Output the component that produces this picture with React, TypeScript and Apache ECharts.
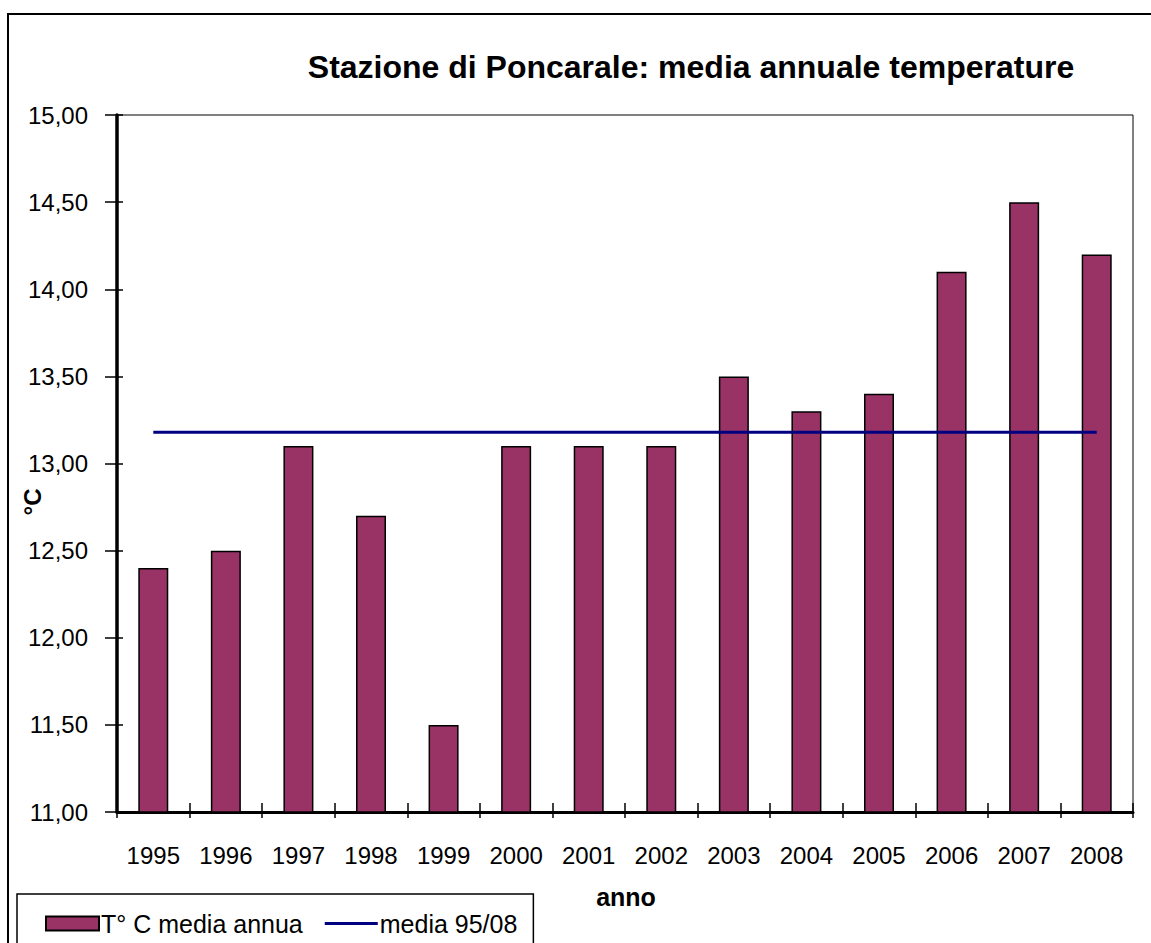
import React, { useEffect, useRef } from "react";
import * as echarts from "echarts";

const years = ["1995", "1996", "1997", "1998", "1999", "2000", "2001", "2002", "2003", "2004", "2005", "2006", "2007", "2008"];
const tempValues = [12.4, 12.5, 13.1, 12.7, 11.5, 13.1, 13.1, 13.1, 13.5, 13.3, 13.4, 14.1, 14.5, 14.2];
const meanValues = [13.18, 13.18, 13.18, 13.18, 13.18, 13.18, 13.18, 13.18, 13.18, 13.18, 13.18, 13.18, 13.18, 13.18];
const barName = "T° C media annua";
const lineName = "media 95/08";
const titleText = "Stazione di Poncarale: media annuale temperature";
const xName = "anno";
const yName = "°C";

const FONT = "'Liberation Sans', Arial, sans-serif";
const LINE_ICON = "path://M0,0L0.01,0L0,0.01ZM0,5.5H53V8.5H0ZM0,14L0.01,14L0,13.99Z";

export default function App() {
  const ref = useRef<HTMLDivElement>(null);
  useEffect(() => {
    document.body.style.margin = "0";
    if (!ref.current) return;
    const chart = echarts.init(ref.current, null, { renderer: "svg" });
    const fmt = (v: number) => v.toFixed(2).replace(".", ",");
    chart.setOption({
      animation: false,
      backgroundColor: "#fff",
      textStyle: { fontFamily: FONT },
      grid: {
        left: 117,
        top: 115,
        right: 18,
        bottom: 131,
        show: true,
        borderColor: "#000",
        borderWidth: 1,
        backgroundColor: "transparent",
      },
      legend: {
        left: 17,
        top: 894,
        width: 530,
        padding: [17, 16, 40, 28],
        borderColor: "#000",
        borderWidth: 1.5,
        itemWidth: 53,
        itemHeight: 14,
        itemGap: 22,
        textStyle: { fontFamily: FONT, fontSize: 25, color: "#000", padding: [0, 0, 0, -3] },
        data: [
          { name: barName, icon: "rect" },
          { name: lineName, icon: LINE_ICON },
        ],
      },
      xAxis: [
        {
          type: "category",
          data: years,
          position: "bottom",
          axisLine: { show: true, lineStyle: { color: "#000", width: 3 } },
          axisTick: { show: true, inside: false, length: 6, lineStyle: { color: "#000", width: 1.5 } },
          axisLabel: { color: "#000", fontSize: 24, fontFamily: FONT, margin: 31, interval: 0 },
          splitLine: { show: false },
        },
        {
          type: "category",
          data: years,
          position: "bottom",
          axisLine: { show: false },
          axisTick: { show: true, inside: true, length: 9, lineStyle: { color: "#000", width: 1.5 } },
          axisLabel: { show: false },
          splitLine: { show: false },
        },
      ],
      yAxis: [
        {
          type: "value",
          min: 11,
          max: 15,
          interval: 0.5,
          position: "left",
          axisLine: { show: true, lineStyle: { color: "#000", width: 3.5 } },
          axisTick: { show: true, inside: false, length: 12, lineStyle: { color: "#000", width: 1.5 } },
          axisLabel: { color: "#000", fontSize: 24, fontFamily: FONT, margin: 29, formatter: fmt },
          splitLine: { show: false },
        },
        {
          type: "value",
          min: 11,
          max: 15,
          interval: 0.5,
          position: "left",
          axisLine: { show: false },
          axisTick: { show: true, inside: true, length: 6, lineStyle: { color: "#000", width: 1.5 } },
          axisLabel: { show: false },
          splitLine: { show: false },
        },
      ],
      series: [
        {
          name: barName,
          type: "bar",
          data: tempValues,
          barWidth: 30,
          itemStyle: { color: "#993366", borderColor: "#000", borderWidth: 1.5 },
        },
        {
          name: lineName,
          type: "line",
          data: meanValues,
          symbol: "none",
          lineStyle: { color: "#000080", width: 3 },
          itemStyle: { color: "#000080" },
          z: 5,
        },
      ],
      graphic: [
        {
          type: "rect",
          shape: { x: 8, y: 14, width: 1170, height: 980 },
          style: { fill: "none", stroke: "#000", lineWidth: 2 },
          silent: true,
          z: 100,
        },
        {
          type: "text",
          x: 691,
          y: 67,
          style: {
            text: titleText,
            fontFamily: FONT,
            fontSize: 32,
            fontWeight: "bold",
            fill: "#000",
            textAlign: "center",
            textVerticalAlign: "middle",
          },
        },
        {
          type: "text",
          x: 626,
          y: 897,
          style: {
            text: xName,
            fontFamily: FONT,
            fontSize: 25,
            fontWeight: "bold",
            fill: "#000",
            textAlign: "center",
            textVerticalAlign: "middle",
          },
        },
        {
          type: "text",
          x: 32,
          y: 502,
          rotation: Math.PI / 2,
          style: {
            text: yName,
            fontFamily: FONT,
            fontSize: 24,
            fontWeight: "bold",
            fill: "#000",
            textAlign: "center",
            textVerticalAlign: "middle",
          },
        },
      ],
    });
    return () => chart.dispose();
  }, []);
  return <div ref={ref} style={{ width: 1151, height: 943 }} />;
}
